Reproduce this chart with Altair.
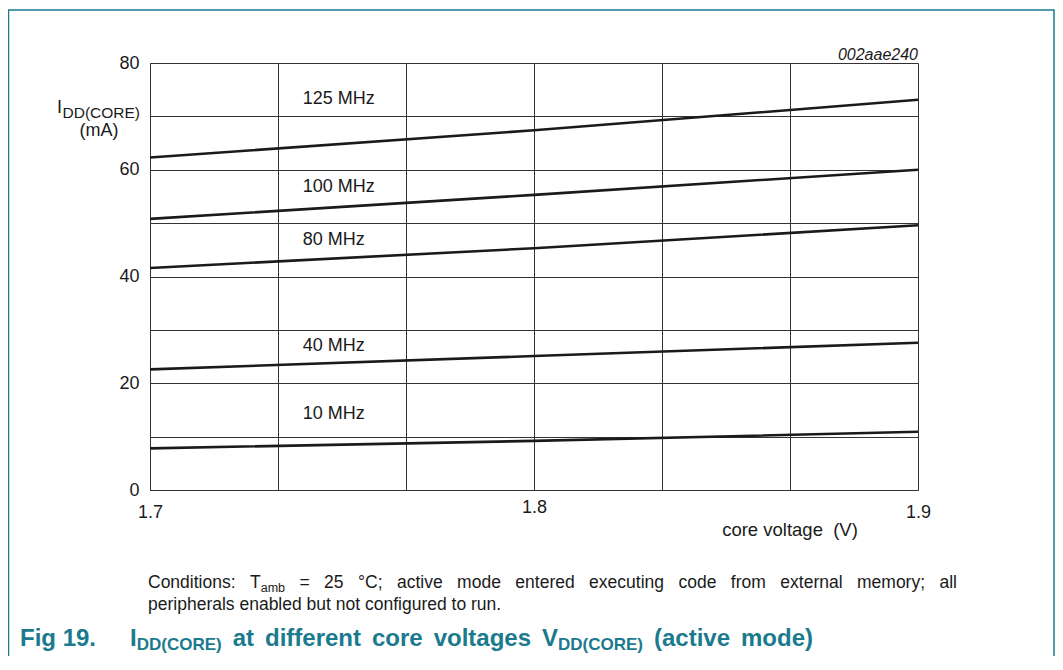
import altair as alt
import pandas as pd

# ---------------- data ----------------
volts = [1.7, 1.8, 1.9]
i_125 = [62.3, 67.4, 73.1]
i_100 = [50.8, 55.3, 60.0]
i_80 = [41.6, 45.3, 49.6]
i_40 = [22.6, 25.1, 27.6]
i_10 = [7.8, 9.2, 10.9]
series_names = ["125 MHz", "100 MHz", "80 MHz", "40 MHz", "10 MHz"]
series_values = [i_125, i_100, i_80, i_40, i_10]

label_x = [1.7398, 1.7398, 1.7398, 1.7398, 1.7398]
label_y = [73.3, 56.8, 46.8, 27.0, 14.3]

x_grid = [1.7, 1.7 + 0.2 / 6, 1.7 + 0.4 / 6, 1.8, 1.7 + 0.8 / 6, 1.7 + 1.0 / 6, 1.9]
y_grid = [0, 10, 20, 30, 40, 50, 60, 70, 80]

y_title_main = "I"
y_title_sub = "DD(CORE)"
y_title_unit = "(mA)"
x_title = "core voltage\u00a0 (V)"
code_id = "002aae240"
cond_1a = "Conditions: T"
cond_1b = "amb"
cond_1c = " = 25 \u00b0C; active mode entered executing code from external memory; all"
cond_2 = "peripherals enabled but not configured to run."
fig_no = "Fig 19."
cap_parts = ["I", "DD(CORE)", " at different core voltages V", "DD(CORE)", " (active mode)"]

# ---------------- style ----------------
FONT = "Liberation Sans"
TEAL = "#1b7a8e"
INK = "#1a1a1a"

REG = {" ": 278, "(": 333, ")": 333, ":": 278, ";": 278, ".": 278, "=": 584, "\u00b0": 400,
       "A": 667, "C": 722, "D": 722, "E": 667, "O": 778, "R": 722, "T": 611, "V": 667, "I": 278,
       "a": 556, "b": 556, "c": 500, "d": 556, "e": 556, "f": 278, "g": 556, "h": 556, "i": 222,
       "l": 222, "m": 833, "n": 556, "o": 556, "p": 556, "r": 333, "s": 500, "t": 278, "u": 556,
       "v": 500, "x": 500, "y": 500}
BOLD = {" ": 278, "(": 333, ")": 333, ".": 278, "1": 556, "9": 556,
        "C": 722, "D": 722, "E": 667, "F": 611, "I": 278, "O": 778, "R": 722, "V": 667,
        "a": 556, "c": 556, "d": 611, "e": 556, "f": 333, "g": 611, "i": 278, "l": 278,
        "m": 889, "n": 611, "o": 611, "r": 389, "s": 556, "t": 333, "v": 556}


def tw(s, size, table):
    return sum(table.get(ch, 556) for ch in s) / 1000.0 * size


rows = []
for name, vals in zip(series_names, series_values):
    for v, i in zip(volts, vals):
        rows.append({"series": name, "v": v, "i": i})
df = pd.DataFrame(rows)
lab_df = pd.DataFrame({"t": series_names, "x": label_x, "y": label_y})

x_scale = alt.Scale(domain=[1.7, 1.9], nice=False, zero=False)
y_scale = alt.Scale(domain=[0, 80], nice=False)

x_axis = alt.Axis(values=x_grid, format=".1f", grid=True, gridColor="#333333", gridWidth=1,
                  domainColor="#333333", ticks=False, labelFlush=False, labelOverlap=False,
                  labelExpr="abs(datum.value*10 - round(datum.value*10)) < 0.001 ? format(datum.value, '.1f') : ''",
                  labelPadding={"condition": {"test": "abs(datum.value - 1.8) < 0.001", "value": 8},
                                "value": 13},
                  labelFontSize=18, labelFont=FONT, labelColor=INK,
                  labelBaseline="top", title=None)
y_axis = alt.Axis(values=y_grid, grid=True, gridColor="#333333", gridWidth=1,
                  domainColor="#333333", ticks=False, labelOverlap=False,
                  labelExpr="datum.value % 20 == 0 ? datum.label : ''",
                  labelPadding=11, labelFontSize=18, labelFont=FONT, labelColor=INK, title=None)

lines = alt.Chart(df).mark_line(color=INK, strokeWidth=2.6).encode(
    x=alt.X("v:Q", scale=x_scale, axis=x_axis),
    y=alt.Y("i:Q", scale=y_scale, axis=y_axis),
    detail="series:N",
)

labels = alt.Chart(lab_df).mark_text(align="left", baseline="middle", fontSize=18,
                                     font=FONT, color=INK).encode(
    x=alt.X("x:Q", scale=x_scale),
    y=alt.Y("y:Q", scale=y_scale),
    text="t:N",
)

ONE = alt.Data(values=[{"a": 1}])


def txt(s, px, py, size, color=INK, align="left", weight="normal", style="normal"):
    return alt.Chart(ONE).mark_text(align=align, baseline="alphabetic", fontSize=size, font=FONT,
                                    color=color, fontWeight=weight, fontStyle=style).encode(
        x=alt.value(px), y=alt.value(py), text=alt.value(s))


def runs_line(runs, x0, y, size, sub_size, sub_dy, table, x_end=None, **kw):
    """Lay out a line made of (text, is_sub) runs word by word (optionally justified)."""
    tokens = [[]]
    for text, sub in runs:
        pieces = text.split(" ")
        for j, p in enumerate(pieces):
            if j > 0:
                tokens.append([])
            if p:
                tokens[-1].append((p, sub))
    tokens = [t for t in tokens if t]
    widths = [sum(tw(p, sub_size if sub else size, table) for p, sub in t) for t in tokens]
    gap = tw(" ", size, table)
    if x_end is not None and len(tokens) > 1:
        gap = (x_end - x0 - sum(widths)) / (len(tokens) - 1)
    out = []
    x = x0
    for t, w in zip(tokens, widths):
        xx = x
        for p, sub in t:
            s = sub_size if sub else size
            out.append(txt(p, xx, y + (sub_dy if sub else 0), s, **kw))
            xx += tw(p, s, table)
        x += w + gap
    return out


layers = [lines, labels]

# y axis title with subscript
layers.append(txt(y_title_main, -93, 50, 18))
layers.append(txt(y_title_sub, -93 + tw(y_title_main, 18, REG) + 0.5, 55, 15.5))
layers.append(txt(y_title_unit, -51, 73, 18, align="center"))
# x axis title
layers.append(txt(x_title, 640, 473, 18.5, align="center"))
# code id
layers.append(txt(code_id, 768, -3, 16, align="right", style="italic"))

# conditions (first line justified, second line natural)
layers += runs_line([(cond_1a, False), (cond_1b, True), (cond_1c, False)],
                    -2, 525, 17.5, 12.5, 4, REG, x_end=807)
layers.append(txt(cond_2, -2, 547, 17.5))

# caption
layers.append(txt(fig_no, -130, 583, 24, color=TEAL, weight="bold"))
layers += runs_line([(p, k in (1, 3)) for k, p in enumerate(cap_parts)],
                    -20, 583, 24, 17, 4, BOLD, x_end=663, color=TEAL, weight="bold")

# frame
frame = alt.Chart(ONE).mark_rect(fill="transparent", stroke=TEAL, strokeWidth=1.5).encode(
    x=alt.value(-141.5), x2=alt.value(904), y=alt.value(-53), y2=alt.value(700))
layers.append(frame)

chart = alt.layer(*layers).properties(
    width=768, height=427,
    autosize=alt.AutoSizeParams(type="none"),
    padding={"left": 142, "top": 55, "right": 137, "bottom": 166},
).configure_view(stroke="#333333", strokeWidth=1).configure(background="white")

chart.save("out.html", embed_options={"renderer": "svg", "actions": False})
